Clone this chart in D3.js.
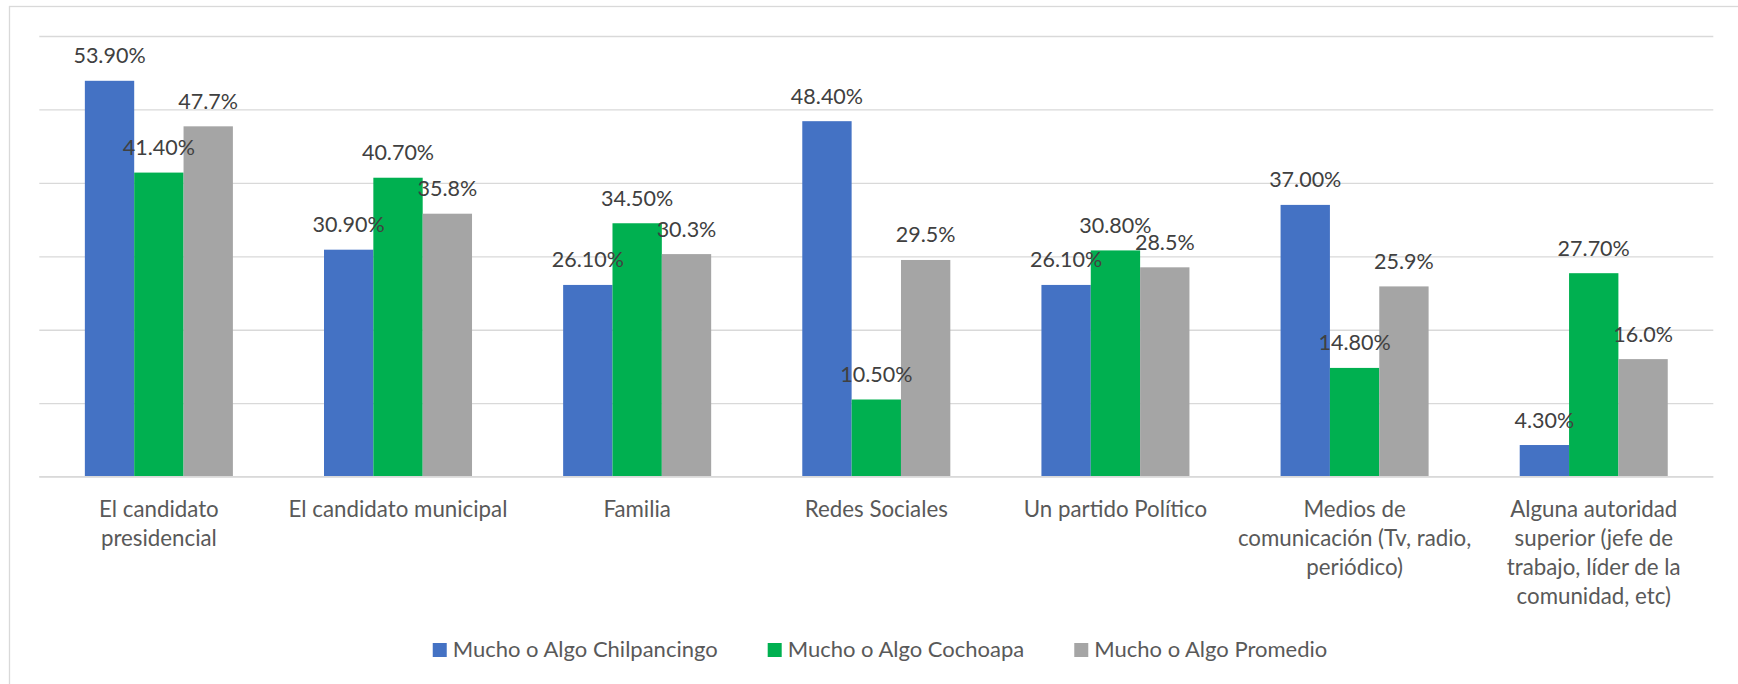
<!DOCTYPE html>
<html>
<head>
<meta charset="utf-8">
<script src="https://cdn.jsdelivr.net/npm/d3@7"></script>
<style>
  html, body { margin: 0; padding: 0; background: #fff; }
  svg { display: block; }
  text { font-family: Lato, "Open Sans", sans-serif; }
</style>
</head>
<body>
<svg id="chart" width="1738" height="684"></svg>
<script>
// ---- data ----
const categories = [
  ["El candidato", "presidencial"],
  ["El candidato municipal"],
  ["Familia"],
  ["Redes Sociales"],
  ["Un partido Político"],
  ["Medios de", "comunicación (Tv, radio,", "periódico)"],
  ["Alguna autoridad", "superior (jefe de", "trabajo, líder de la", "comunidad, etc)"]
];
const seriesNames = ["Mucho o Algo Chilpancingo", "Mucho o Algo Cochoapa", "Mucho o Algo Promedio"];
const chilpancingo = [53.9, 30.9, 26.1, 48.4, 26.1, 37.0, 4.3];
const cochoapa     = [41.4, 40.7, 34.5, 10.5, 30.8, 14.8, 27.7];
const promedio     = [47.7, 35.8, 30.3, 29.5, 28.5, 25.9, 16.0];
const chilpancingoLabels = ["53.90%", "30.90%", "26.10%", "48.40%", "26.10%", "37.00%", "4.30%"];
const cochoapaLabels     = ["41.40%", "40.70%", "34.50%", "10.50%", "30.80%", "14.80%", "27.70%"];
const promedioLabels     = ["47.7%", "35.8%", "30.3%", "29.5%", "28.5%", "25.9%", "16.0%"];
const yTicks = [0, 10, 20, 30, 40, 50, 60];
const colors = ["#4472C4", "#00B050", "#A5A5A5"];

// ---- layout ----
const svg = d3.select("#chart");
const plot = { left: 39.3, right: 1713.3, top: 36, bottom: 476.6 };
const catKeys = categories.map((c, i) => "c" + i);
const series = [chilpancingo, cochoapa, promedio];
const seriesLabels = [chilpancingoLabels, cochoapaLabels, promedioLabels];

// chart border
svg.append("rect")
  .attr("x", 9.5).attr("y", 6.5)
  .attr("width", 1800).attr("height", 720)
  .attr("fill", "#fff").attr("stroke", "#D9D9D9").attr("stroke-width", 1.3);

const x0 = d3.scaleBand().domain(catKeys).range([plot.left, plot.right])
  .paddingInner(0.381).paddingOuter(0.1905);
const x1 = d3.scaleBand().domain([0, 1, 2]).range([0, x0.bandwidth()]);
const y = d3.scaleLinear().domain([0, 60]).range([plot.bottom, plot.top]);

// gridlines
const yAxis = d3.axisLeft(y).tickValues(yTicks).tickSize(-(plot.right - plot.left)).tickFormat("");
const gy = svg.append("g").attr("transform", `translate(${plot.left},0)`).call(yAxis);
gy.select(".domain").remove();
gy.selectAll(".tick line").attr("stroke", "#D9D9D9").attr("stroke-width", 1.3);

// bars
const groups = svg.append("g").selectAll("g").data(catKeys).join("g")
  .attr("transform", d => `translate(${x0(d)},0)`);

series.forEach((vals, s) => {
  groups.append("rect")
    .attr("x", x1(s))
    .attr("width", x1.bandwidth())
    .attr("y", (d, i) => y(vals[i]))
    .attr("height", (d, i) => y(0) - y(vals[i]))
    .attr("fill", colors[s]);
});

// baseline
svg.append("line")
  .attr("x1", plot.left).attr("x2", plot.right)
  .attr("y1", y(0)).attr("y2", y(0))
  .attr("stroke", "#D9D9D9").attr("stroke-width", 1.3);

// data labels
series.forEach((vals, s) => {
  groups.append("text")
    .attr("x", x1(s) + x1.bandwidth() / 2)
    .attr("y", (d, i) => y(vals[i]) - 17.5)
    .attr("text-anchor", "middle")
    .attr("font-size", 21.5)
    .attr("fill", "#404040")
    .text((d, i) => seriesLabels[s][i]);
});

// category labels
const xAxis = d3.axisBottom(x0).tickSize(0).tickFormat("");
const gx = svg.append("g").attr("transform", `translate(0,${plot.bottom})`).call(xAxis);
gx.select(".domain").remove();
gx.selectAll(".tick").each(function(d, i) {
  const t = d3.select(this).append("text")
    .attr("text-anchor", "middle")
    .attr("font-size", 22.3)
    .attr("fill", "#595959");
  categories[i].forEach((line, k) => {
    t.append("tspan").attr("x", 0).attr("y", 40 + k * 29.3).text(line);
  });
});

// legend
const legend = svg.append("g");
const items = legend.selectAll("g").data(seriesNames).join("g");
items.append("rect").attr("width", 14).attr("height", 14).attr("y", 643)
  .attr("fill", (d, i) => colors[i]);
items.append("text").attr("y", 656.5).attr("font-size", 22).attr("fill", "#595959").text(d => d);
const widths = [];
items.select("text").each(function() { widths.push(this.getComputedTextLength()); });
const gap = 50, sq = 14, sqGap = 6;
const total = d3.sum(widths) + widths.length * (sq + sqGap) + gap * (widths.length - 1);
let cx = 880 - total / 2;
items.each(function(d, i) {
  const g = d3.select(this);
  g.select("rect").attr("x", cx);
  g.select("text").attr("x", cx + sq + sqGap);
  cx += sq + sqGap + widths[i] + gap;
});
</script>
</body>
</html>
